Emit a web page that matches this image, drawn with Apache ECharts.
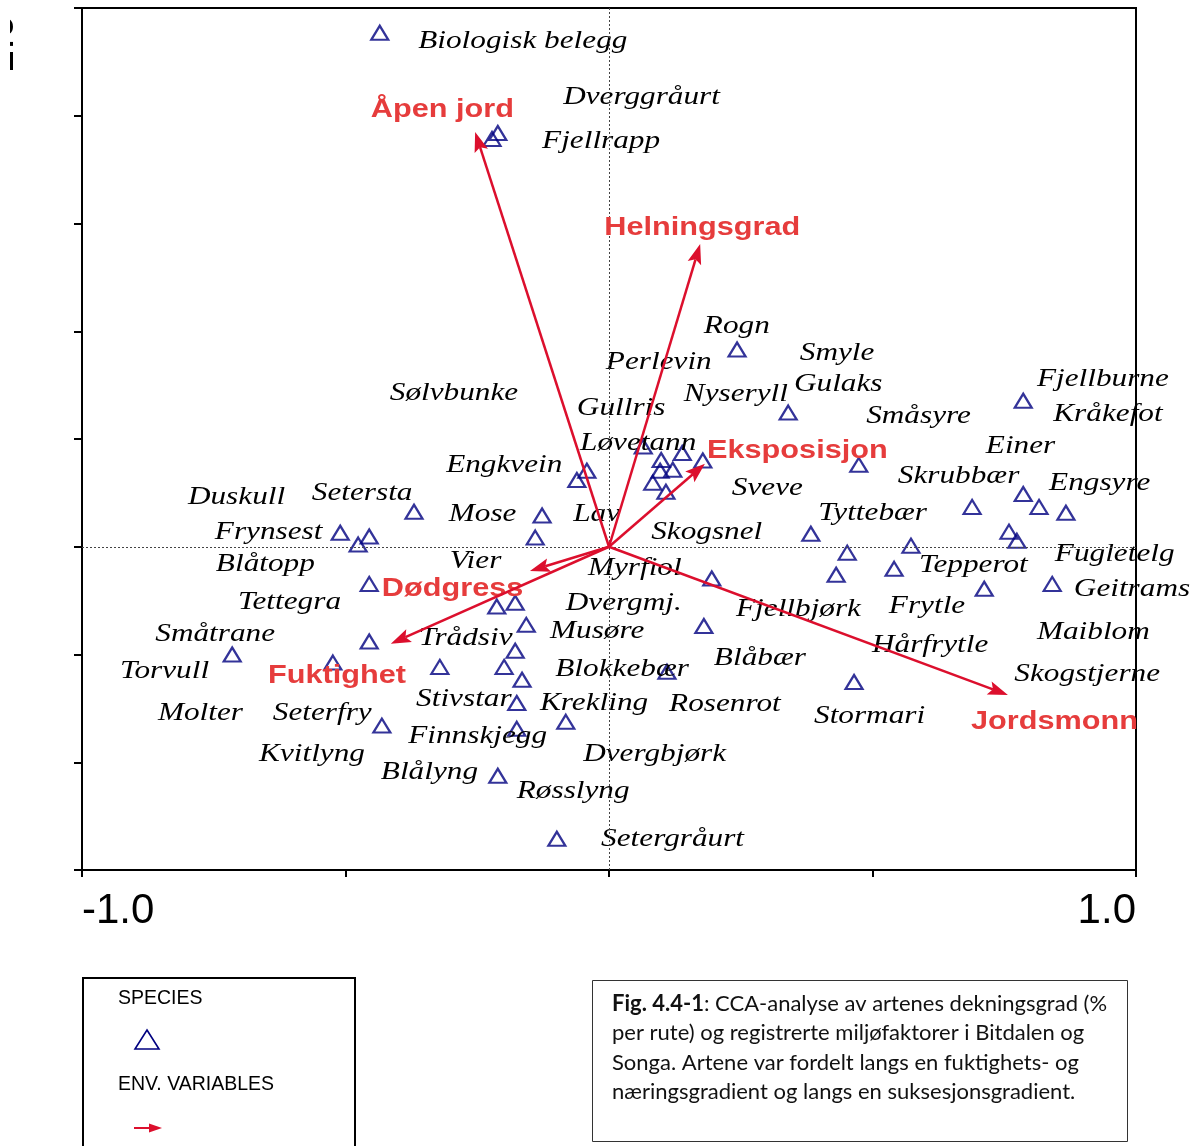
<!DOCTYPE html>
<html>
<head>
<meta charset="utf-8">
<title>CCA – Bitdalen og Songa</title>
<script src="https://cdn.jsdelivr.net/npm/echarts@6/dist/echarts.min.js"></script>
<style>
  html, body { margin: 0; padding: 0; background: #fff; }
  #chart { width: 1190px; height: 1146px; }
</style>
</head>
<body>
<div id="chart"></div>
<script>
// Species scores (triangles), CCA axis 1 / axis 2
const speciesX = [-0.435, -0.222, -0.211, 0.243, 0.340, 0.786, 0.065, -0.042, -0.061, 0.099,
  0.139, 0.178, 0.097, 0.121, 0.083, 0.108, 0.474, 0.689, 0.786, 0.816,
  0.867, 0.759, 0.774, 0.573, 0.452, 0.383, 0.541, 0.431, 0.195, 0.712,
  0.841, 0.465, 0.180, 0.110, -0.370, -0.127, -0.140, -0.510, -0.476, -0.455,
  -0.455, -0.455, -0.715, -0.524, -0.321, -0.213, -0.178, -0.157, -0.178, -0.199,
  -0.165, -0.175, -0.175, -0.431, -0.082, -0.211, -0.099];
const speciesY = [0.954, 0.757, 0.768, 0.366, 0.249, 0.271, 0.186, 0.141, 0.124, 0.161,
  0.174, 0.160, 0.141, 0.143, 0.119, 0.102, 0.152, 0.074, 0.098, 0.074,
  0.063, 0.028, 0.011, 0.002, -0.011, 0.024, -0.041, -0.052, -0.059, -0.078,
  -0.069, -0.251, -0.147, -0.232, 0.065, 0.058, 0.017, 0.026, 0.004, 0.019,
  -0.069, -0.176, -0.200, -0.215, -0.223, -0.111, -0.104, -0.145, -0.193, -0.223,
  -0.247, -0.290, -0.338, -0.332, -0.325, -0.425, -0.542];

// Species names and where each name is written
const labelNames = ['Biologisk belegg', 'Dverggråurt', 'Fjellrapp', 'Rogn', 'Perlevin', 'Smyle', 'Gulaks',
  'Nyseryll', 'Sølvbunke', 'Gullris', 'Småsyre', 'Fjellburne', 'Kråkefot', 'Løvetann', 'Einer',
  'Engkvein', 'Skrubbær', 'Engsyre', 'Sveve', 'Duskull', 'Setersta', 'Tyttebær', 'Mose', 'Lav',
  'Frynsest', 'Skogsnel', 'Vier', 'Blåtopp', 'Myrfiol', 'Fugletelg', 'Tepperot', 'Tettegra',
  'Dvergmj.', 'Geitrams', 'Fjellbjørk', 'Frytle', 'Småtrane', 'Musøre', 'Trådsiv', 'Maiblom',
  'Hårfrytle', 'Blåbær', 'Torvull', 'Blokkebær', 'Skogstjerne', 'Stivstar', 'Krekling', 'Rosenrot',
  'Molter', 'Seterfry', 'Stormari', 'Finnskjegg', 'Kvitlyng', 'Dvergbjørk', 'Blålyng', 'Røsslyng',
  'Setergråurt'];
const labelX = [-0.362, -0.087, -0.127, 0.180, -0.006, 0.362, 0.351,
  0.142, -0.416, -0.061, 0.488, 0.812, 0.843, -0.055, 0.715,
  -0.309, 0.548, 0.835, 0.233, -0.799, -0.564, 0.397, -0.304, -0.068,
  -0.748, 0.080, -0.302, -0.746, -0.040, 0.846, 0.588, -0.704,
  -0.082, 0.882, 0.241, 0.531, -0.861, -0.112, -0.361, 0.812,
  0.499, 0.199, -0.928, -0.102, 0.769, -0.366, -0.131, 0.114,
  -0.856, -0.638, 0.389, -0.381, -0.664, -0.049, -0.433, -0.175,
  -0.015];
const labelY = [0.943, 0.839, 0.757, 0.414, 0.347, 0.364, 0.306,
  0.288, 0.290, 0.262, 0.247, 0.316, 0.251, 0.197, 0.191,
  0.156, 0.136, 0.123, 0.113, 0.098, 0.104, 0.067, 0.065, 0.065,
  0.032, 0.033, -0.022, -0.028, -0.035, -0.009, -0.030, -0.098,
  -0.100, -0.074, -0.110, -0.106, -0.158, -0.152, -0.165, -0.154,
  -0.178, -0.202, -0.226, -0.223, -0.232, -0.278, -0.286, -0.288,
  -0.304, -0.304, -0.310, -0.347, -0.379, -0.379, -0.414, -0.449,
  -0.538];

// Environmental variables: arrow tips and label anchors
const envNames = ['Åpen jord', 'Helningsgrad', 'Eksposisjon', 'Dødgress', 'Fuktighet', 'Jordsmonn'];
const envX = [-0.254, 0.173, 0.182, -0.150, -0.414, 0.757];
const envY = [0.770, 0.562, 0.154, -0.045, -0.180, -0.275];
const envLabelX = [-0.452, -0.009, 0.186, -0.431, -0.647, 0.687];
const envLabelY = [0.819, 0.600, 0.186, -0.071, -0.232, -0.317];

// Axis ranges and tick steps
const xRange = [-1.0, 1.0];
const xStep = 0.5;
const yRange = [-0.6, 1.0];
const yStep = 0.2;
const xTickText = { '-1': '-1.0', '1': '1.0' };

const captionLines = [
  ['Fig. 4.4-1', ': CCA-analyse av artenes dekningsgrad (%'],
  ['', 'per rute) og registrerte miljøfaktorer i Bitdalen og'],
  ['', 'Songa. Artene var fordelt langs en fuktighets- og'],
  ['', 'næringsgradient og langs en suksesjonsgradient.']
];

const NAVY = '#000080';
const ARROW_RED = '#dc0f2d';
const LABEL_RED = '#e63c3c';

const chart = echarts.init(document.getElementById('chart'), null, { renderer: 'canvas' });

function arrowItem(params, api) {
  const o = api.coord([0, 0]);
  const t = api.coord([api.value(0), api.value(1)]);
  const dx = t[0] - o[0], dy = t[1] - o[1];
  const len = Math.sqrt(dx * dx + dy * dy);
  const ux = dx / len, uy = dy / len;
  const px = -uy, py = ux;
  const L = 20, W = 7;
  const bx = t[0] - ux * L, by = t[1] - uy * L;
  const nx = t[0] - ux * L * 0.8, ny = t[1] - uy * L * 0.8;
  return {
    type: 'group',
    children: [
      { type: 'line', shape: { x1: o[0], y1: o[1], x2: nx, y2: ny },
        style: { stroke: ARROW_RED, lineWidth: 2.5 } },
      { type: 'polygon',
        shape: { points: [[t[0], t[1]], [bx + px * W, by + py * W], [nx, ny], [bx - px * W, by - py * W]] },
        style: { fill: ARROW_RED } }
    ]
  };
}

// Text written at a data point, widened horizontally; dy nudges the baseline
function textItem(names, font, fill, scaleX, dy) {
  return function (params, api) {
    const p = api.coord([api.value(0), api.value(1)]);
    return {
      type: 'text',
      x: p[0], y: p[1] + dy, scaleX: scaleX,
      style: {
        text: names[params.dataIndex], font: font, fill: fill,
        align: 'left', textAlign: 'left', verticalAlign: 'middle', textVerticalAlign: 'middle'
      }
    };
  };
}

const captionText = captionLines.map(function (l) {
  return (l[0] ? '{b|' + l[0] + '}' : '') + '{n|' + l[1] + '}';
}).join('\n');

const CAPTION_FONT = 'Lato, "Open Sans", sans-serif';

const option = {
  animation: false,
  backgroundColor: '#fff',
  grid: { left: 82, right: 54, top: 8, bottom: 276, show: true, borderColor: '#000', borderWidth: 2, containLabel: false },
  xAxis: {
    type: 'value', min: xRange[0], max: xRange[1], interval: xStep,
    axisLine: { show: true, onZero: false, lineStyle: { color: '#000', width: 2 } },
    axisTick: { show: true, inside: false, length: 7, lineStyle: { color: '#000', width: 2 } },
    splitLine: { show: false },
    axisLabel: {
      show: true, margin: 20, color: '#000', fontSize: 42, fontFamily: '"Liberation Sans", Arial, sans-serif',
      showMinLabel: true, showMaxLabel: true, alignMinLabel: 'left', alignMaxLabel: 'right',
      formatter: function (v) { return xTickText[String(Math.round(v * 10) / 10)] || ''; }
    }
  },
  yAxis: {
    type: 'value', min: yRange[0], max: yRange[1], interval: yStep,
    axisLine: { show: true, onZero: false, lineStyle: { color: '#000', width: 2 } },
    axisTick: { show: true, inside: false, length: 8, lineStyle: { color: '#000', width: 2 } },
    splitLine: { show: false },
    axisLabel: { show: false }
  },
  series: [
    {
      name: 'Species',
      type: 'scatter',
      symbol: 'triangle',
      symbolSize: [17, 14],
      itemStyle: { color: 'rgba(0,0,0,0)', borderColor: NAVY, borderWidth: 2.2 },
      data: speciesX.map(function (x, i) { return [x, speciesY[i]]; }),
      z: 3,
      markLine: {
        silent: true, symbol: 'none', label: { show: false },
        lineStyle: { type: [2, 2], color: '#444', width: 1 },
        data: [{ xAxis: 0 }, { yAxis: 0 }]
      }
    },
    {
      name: 'Species names',
      type: 'custom',
      renderItem: textItem(labelNames, 'italic 25px "Liberation Serif", "Times New Roman", serif', '#000', 1.25, 3),
      encode: { x: 0, y: 1 },
      data: labelX.map(function (x, i) { return [x, labelY[i]]; }),
      clip: false,
      silent: true,
      z: 4
    },
    {
      name: 'Env. variable names',
      type: 'custom',
      renderItem: textItem(envNames, 'bold 26px "Liberation Sans", Arial, sans-serif', LABEL_RED, 1.18, 4),
      encode: { x: 0, y: 1 },
      data: envLabelX.map(function (x, i) { return [x, envLabelY[i]]; }),
      clip: false,
      silent: true,
      z: 5
    },
    {
      name: 'Env. variables',
      type: 'custom',
      renderItem: arrowItem,
      encode: { x: 0, y: 1 },
      data: envX.map(function (x, i) { return [x, envY[i]]; }),
      clip: false,
      silent: true,
      z: 6
    }
  ],
  graphic: [
    // rotated axis value, mostly cut off at the left page edge
    { type: 'text', x: 22, y: 44, rotation: Math.PI / 2, silent: true, z: 1,
      style: { text: '1.0', font: '42px "Liberation Sans", Arial, sans-serif', fill: '#000',
        align: 'center', textAlign: 'center', verticalAlign: 'bottom', textVerticalAlign: 'bottom' } },
    { type: 'rect', shape: { x: 0, y: 0, width: 10, height: 90 }, style: { fill: '#fff' }, silent: true, z: 2 },
    // legend box
    { type: 'rect', shape: { x: 83, y: 978, width: 272, height: 190 },
      style: { fill: 'none', stroke: '#000', lineWidth: 2 }, silent: true },
    { type: 'text', x: 118, y: 999, silent: true,
      style: { text: 'SPECIES', font: '19.5px "Liberation Sans", Arial, sans-serif', fill: '#000',
        verticalAlign: 'middle', textVerticalAlign: 'middle' } },
    { type: 'polygon', silent: true,
      shape: { points: [[147, 1030], [159, 1049], [135, 1049]] },
      style: { fill: 'none', stroke: NAVY, lineWidth: 1.6 } },
    { type: 'text', x: 118, y: 1085, silent: true,
      style: { text: 'ENV. VARIABLES', font: '19.5px "Liberation Sans", Arial, sans-serif', fill: '#000',
        verticalAlign: 'middle', textVerticalAlign: 'middle' } },
    { type: 'line', silent: true, shape: { x1: 134, y1: 1128, x2: 151, y2: 1128 },
      style: { stroke: ARROW_RED, lineWidth: 2 } },
    { type: 'polygon', silent: true, shape: { points: [[149, 1123.5], [162, 1128], [149, 1132.5]] },
      style: { fill: ARROW_RED } },
    // caption box
    { type: 'rect', shape: { x: 592.5, y: 980.5, width: 535, height: 161 },
      style: { fill: '#fff', stroke: '#333', lineWidth: 1 }, silent: true },
    { type: 'text', x: 612, y: 989, silent: true,
      style: {
        text: captionText,
        font: '22px ' + CAPTION_FONT,
        fill: '#111',
        lineHeight: 29.5,
        verticalAlign: 'top', textVerticalAlign: 'top',
        rich: {
          b: { fontWeight: 'bold', fontSize: 22, fontFamily: CAPTION_FONT, lineHeight: 29.5, fill: '#111' },
          n: { fontSize: 22, fontFamily: CAPTION_FONT, lineHeight: 29.5, fill: '#111' }
        }
      } }
  ]
};

chart.setOption(option);
</script>
</body>
</html>
